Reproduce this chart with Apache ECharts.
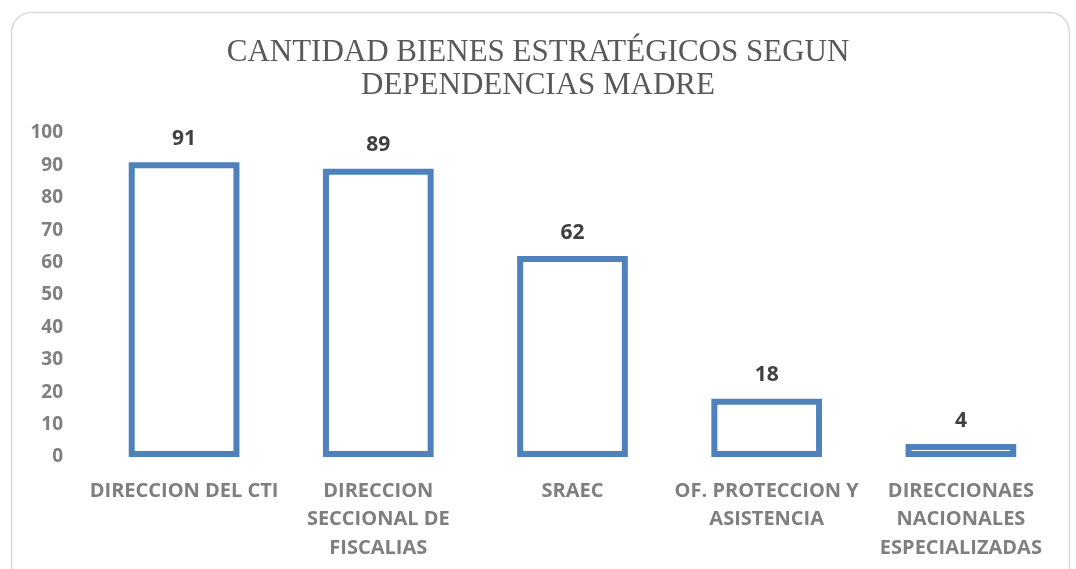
<!DOCTYPE html>
<html>
<head>
<meta charset="utf-8">
<script src="https://cdn.jsdelivr.net/npm/echarts@6/dist/echarts.min.js"></script>
<style>html,body{margin:0;padding:0;background:#fff}#main{width:1076px;height:569px}</style>
</head>
<body>
<div id="main"></div>
<script>
var categories = ['DIRECCION DEL CTI', 'DIRECCION\nSECCIONAL DE\nFISCALIAS', 'SRAEC', 'OF. PROTECCION Y\nASISTENCIA', 'DIRECCIONAES\nNACIONALES\nESPECIALIZADAS'];
var values = [91, 89, 62, 18, 4];
var yTicks = [0, 10, 20, 30, 40, 50, 60, 70, 80, 90, 100];

var myChart = echarts.init(document.getElementById('main'));
var option = {
    backgroundColor: '#fff',
    title: {
        text: 'CANTIDAD BIENES ESTRATÉGICOS SEGUN\nDEPENDENCIAS MADRE',
        left: 'center',
        top: 31,
        textStyle: {
            fontFamily: 'Liberation Serif',
            fontWeight: 'normal',
            fontSize: 31,
            lineHeight: 33,
            color: '#595959'
        }
    },
    graphic: [{
        type: 'rect',
        shape: {x: 11.5, y: 12.5, width: 1058, height: 600, r: 20},
        style: {fill: 'none', stroke: '#d9d9d9', lineWidth: 1.5},
        silent: true
    }],
    grid: {left: 87, right: 18, top: 133, bottom: 112},
    xAxis: {
        type: 'category',
        data: categories,
        axisLine: {show: false},
        axisTick: {show: false},
        axisLabel: {
            interval: 0,
            margin: 20,
            fontFamily: 'Open Sans',
            fontWeight: 'bold',
            fontSize: 20,
            lineHeight: 28.5,
            color: '#7f7f7f'
        }
    },
    yAxis: {
        type: 'value',
        min: 0,
        max: 100,
        interval: 10,
        splitLine: {show: false},
        axisLine: {show: false},
        axisTick: {show: false},
        axisLabel: {
            margin: 24,
            fontFamily: 'Open Sans',
            fontWeight: 'bold',
            fontSize: 19,
            color: '#7f7f7f',
            formatter: function (v) { return yTicks.indexOf(v) >= 0 ? String(v) : ''; }
        }
    },
    series: [{
        type: 'bar',
        data: values,
        barWidth: '57%',
        itemStyle: {color: '#fff', borderColor: '#4f81bd', borderWidth: 6},
        label: {
            show: true,
            position: 'top',
            distance: 13,
            fontFamily: 'Open Sans',
            fontWeight: 'bold',
            fontSize: 21,
            color: '#404040'
        }
    }]
};
myChart.setOption(option);
</script>
</body>
</html>
